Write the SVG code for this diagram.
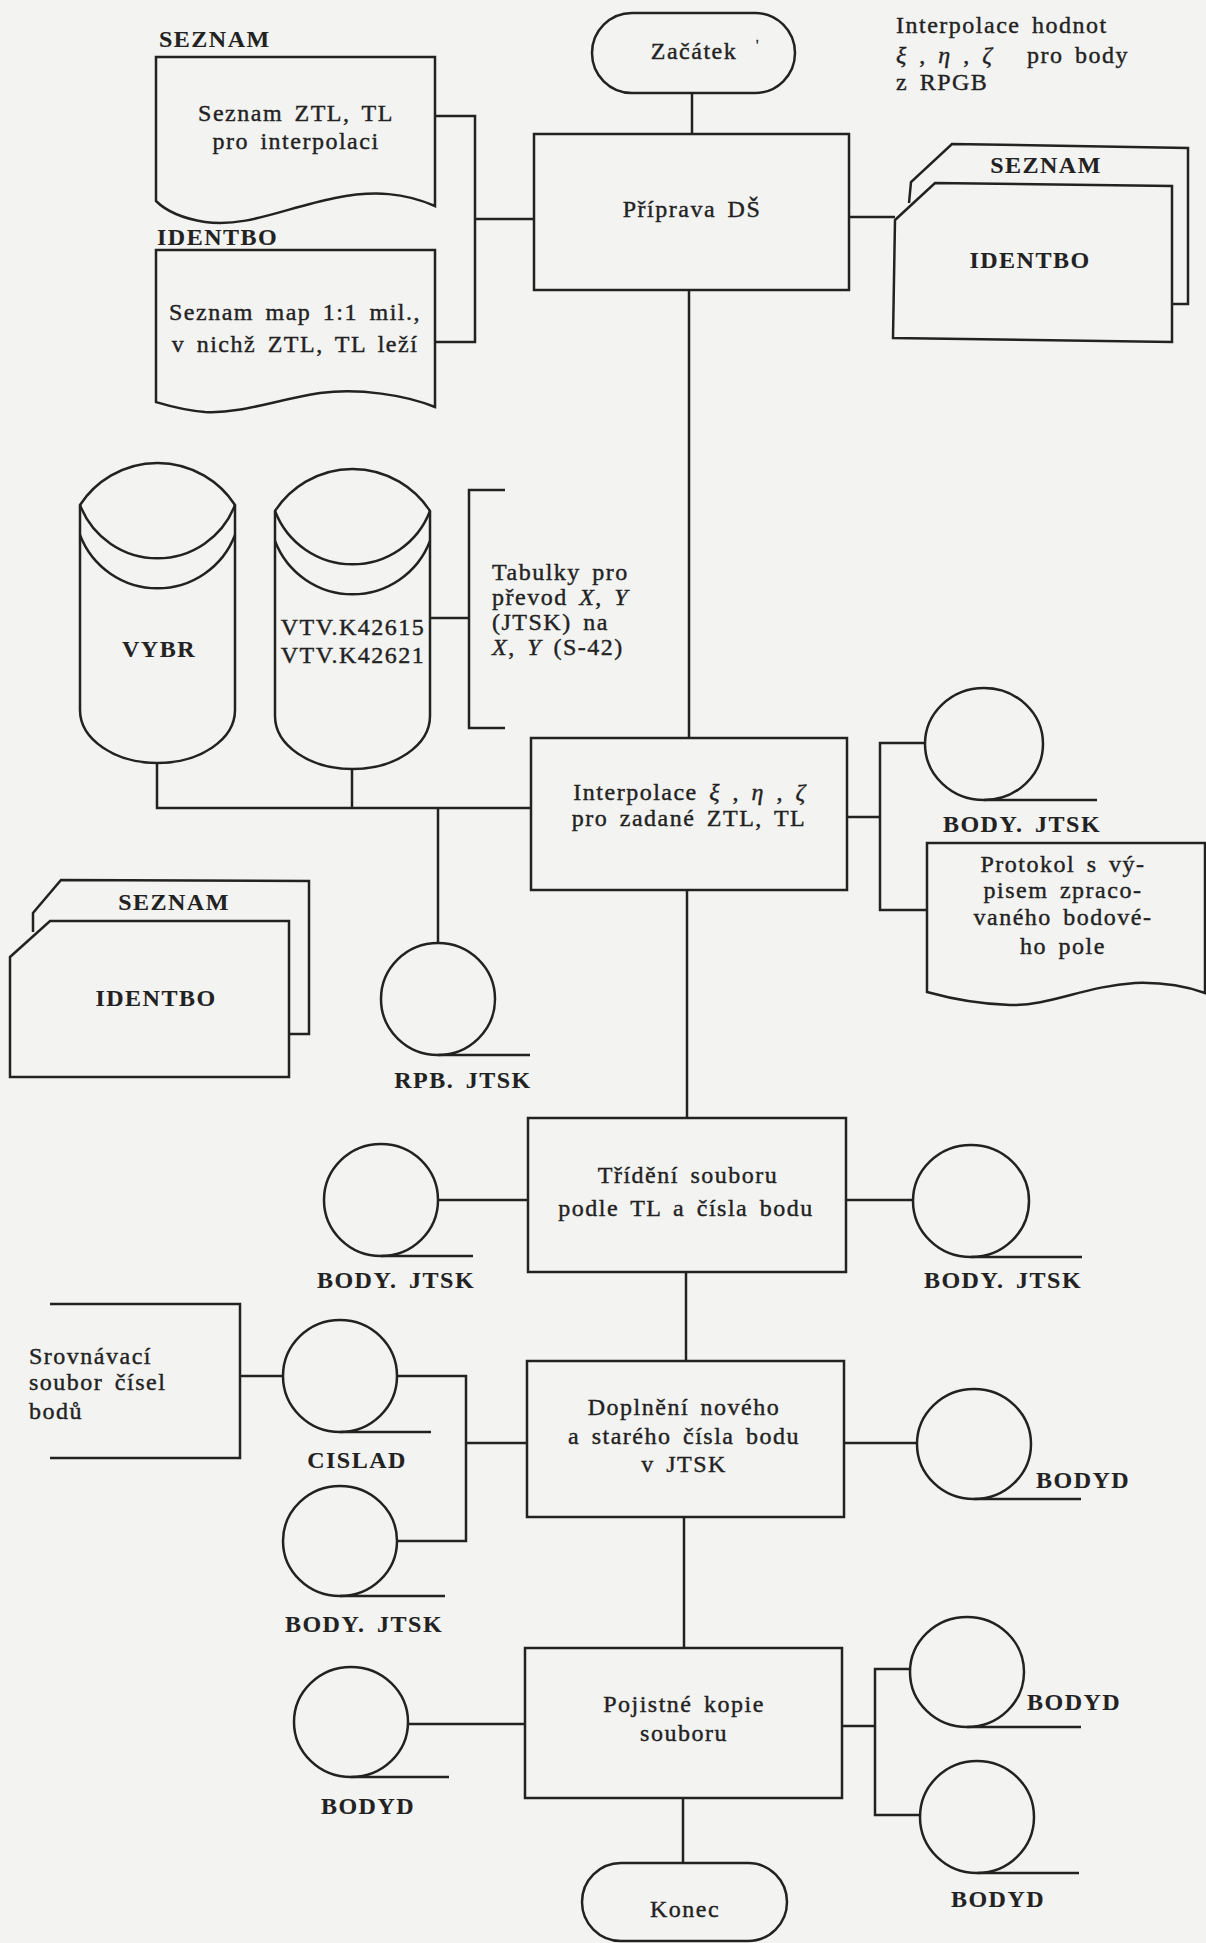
<svg xmlns="http://www.w3.org/2000/svg" width="1206" height="1943" viewBox="0 0 1206 1943">
<style>
  .s{fill:none;stroke:#222;stroke-width:2.5;stroke-linejoin:miter}
  .f{fill:#f3f3f1;stroke:#222;stroke-width:2.5}
  text{font-family:"Liberation Serif","DejaVu Serif",serif;font-size:24px;fill:#222;stroke:#222;stroke-width:0.4;letter-spacing:1.5px;word-spacing:4px}
  .c{text-anchor:middle}
  .b{font-weight:bold;stroke-width:0.1}
  .i{font-style:italic}
</style>
<defs>
  <g id="cyl">
    <path class="f" d="M0,0 A92.5,92.5 0 0 1 155,0 V205 A77.5,53 0 0 1 0,205 Z"/>
    <path class="s" d="M0,0 A83,83 0 0 0 155,0 M0,30 A83,83 0 0 0 155,30"/>
  </g>
</defs>
<rect width="1206" height="1943" fill="#f3f3f1"/>

<g id="connectors" class="s">
  <path d="M692,93 V133"/>
  <path d="M689,290 V738"/>
  <path d="M687,890 V1118"/>
  <path d="M686,1272 V1361"/>
  <path d="M684,1517 V1648"/>
  <path d="M683,1798 V1863"/>
  <path d="M435,116 H475 V342 H435 M475,219 H534"/>
  <path d="M849,217 H895"/>
  <path d="M157,763 V808 H531 M352,769 V808 M438,808 V943"/>
  <path d="M431,618 H469 M505,490 H469 V728 H505"/>
  <path d="M847,817 H880 M925,743 H880 V910 H927"/>
  <path d="M438,1200 H528"/>
  <path d="M846,1200 H913"/>
  <path d="M50,1304 H240 V1458 H50 M240,1376 H283"/>
  <path d="M397,1376 H466 V1541 H397 M466,1443 H527"/>
  <path d="M844,1443 H917"/>
  <path d="M408,1724 H525"/>
  <path d="M842,1726 H875 M910,1669 H875 V1815 H920"/>
</g>

<g id="start">
  <rect class="f" x="592" y="13" width="203" height="80" rx="40" ry="40"/>
  <text class="c" x="694" y="59">Začátek</text>
  <text x="756" y="50" style="font-size:14px">'</text>
</g>

<g id="note-top">
  <text x="896" y="33">Interpolace hodnot</text>
  <text x="896" y="63"><tspan class="i">ξ</tspan> , <tspan class="i">η</tspan> , <tspan class="i">ζ</tspan><tspan x="1027">pro body</tspan></text>
  <text x="896" y="90">z RPGB</text>
</g>

<g id="doc-seznam">
  <text class="b" x="159" y="47">SEZNAM</text>
  <path class="f" d="M156,57 H435 V206 C405,193 375,190 335,198 C285,208 245,228 205,222 C180,218 165,210 156,201 Z"/>
  <text class="c" x="296" y="121">Seznam ZTL, TL</text>
  <text class="c" x="296" y="149">pro interpolaci</text>
</g>

<g id="doc-identbo">
  <text class="b" x="157" y="245">IDENTBO</text>
  <path class="f" d="M156,250 H435 V407 C405,395 360,388 320,393 C275,400 240,414 205,412 C182,410 166,405 156,402 Z"/>
  <text class="c" x="295" y="320">Seznam map 1:1 mil.,</text>
  <text class="c" x="295" y="352">v nichž ZTL, TL leží</text>
</g>

<g id="priprava">
  <rect class="f" x="534" y="134" width="315" height="156"/>
  <text class="c" x="692" y="217">Příprava DŠ</text>
</g>

<g id="cards-right">
  <path class="f" d="M909,203 L911,182 L952,144 L1188,148 L1188,304 L1172,304"/>
  <path class="f" d="M895,220 L935,183 L1172,186 L1172,342 L893,338 Z"/>
  <text class="c b" x="1046" y="173">SEZNAM</text>
  <text class="c b" x="1030" y="268">IDENTBO</text>
</g>

<g id="vybr">
  <use href="#cyl" transform="translate(80,505)"/>
  <text class="c b" x="159" y="657">VYBR</text>
</g>

<g id="vtv">
  <use href="#cyl" transform="translate(275,511)"/>
  <text class="c" x="353" y="635">VTV.K42615</text>
  <text class="c" x="353" y="663">VTV.K42621</text>
</g>

<g id="note-tabulky">
  <text x="492" y="580">Tabulky pro</text>
  <text x="492" y="605">převod <tspan class="i">X</tspan>, <tspan class="i">Y</tspan></text>
  <text x="492" y="630">(JTSK) na</text>
  <text x="492" y="655"><tspan class="i">X</tspan>, <tspan class="i">Y</tspan> (S-42)</text>
</g>

<g id="interpolace">
  <rect class="f" x="531" y="738" width="316" height="152"/>
  <text class="c" x="690" y="800">Interpolace <tspan class="i">ξ</tspan> , <tspan class="i">η</tspan> , <tspan class="i">ζ</tspan></text>
  <text class="c" x="689" y="826">pro zadané ZTL, TL</text>
</g>

<g id="tape-body-jtsk-1">
  <ellipse class="f" cx="984" cy="744" rx="59" ry="56"/>
  <path class="s" d="M984,800 H1097"/>
  <text class="c b" x="1022" y="832">BODY. JTSK</text>
</g>

<g id="protokol">
  <path class="f" d="M927,843 H1205 V993 C1185,986 1165,982 1135,983 C1085,986 1050,1006 1010,1005 C975,1004 945,997 927,992 Z"/>
  <text class="c" x="1063" y="872">Protokol s vý-</text>
  <text class="c" x="1063" y="898">pisem zpraco-</text>
  <text class="c" x="1063" y="925">vaného bodové-</text>
  <text class="c" x="1063" y="954">ho pole</text>
</g>

<g id="cards-left">
  <path class="f" d="M33,932 L33,913 L61,880 L309,881 L309,1034 L289,1034"/>
  <path class="f" d="M10,957 L50,921 L289,921 L289,1077 L10,1077 Z"/>
  <text class="c b" x="174" y="910">SEZNAM</text>
  <text class="c b" x="156" y="1006">IDENTBO</text>
</g>

<g id="tape-rpb-jtsk">
  <ellipse class="f" cx="438" cy="999" rx="57" ry="56"/>
  <path class="s" d="M438,1055 H530"/>
  <text class="c b" x="463" y="1088">RPB. JTSK</text>
</g>

<g id="tape-body-jtsk-2">
  <ellipse class="f" cx="381" cy="1200" rx="57" ry="56"/>
  <path class="s" d="M381,1256 H473"/>
  <text class="c b" x="396" y="1288">BODY. JTSK</text>
</g>

<g id="trideni">
  <rect class="f" x="528" y="1118" width="318" height="154"/>
  <text class="c" x="688" y="1183">Třídění souboru</text>
  <text class="c" x="686" y="1216">podle TL a čísla bodu</text>
</g>

<g id="tape-body-jtsk-3">
  <ellipse class="f" cx="971" cy="1201" rx="58" ry="56"/>
  <path class="s" d="M971,1257 H1082"/>
  <text class="c b" x="1003" y="1288">BODY. JTSK</text>
</g>

<g id="note-srovnavaci">
  <text x="29" y="1364">Srovnávací</text>
  <text x="29" y="1390">soubor čísel</text>
  <text x="29" y="1419">bodů</text>
</g>

<g id="tape-cislad">
  <ellipse class="f" cx="340" cy="1376" rx="57" ry="56"/>
  <path class="s" d="M340,1432 H431"/>
  <text class="c b" x="357" y="1468">CISLAD</text>
</g>

<g id="tape-body-jtsk-4">
  <ellipse class="f" cx="340" cy="1541" rx="57" ry="55"/>
  <path class="s" d="M340,1596 H445"/>
  <text class="c b" x="364" y="1632">BODY. JTSK</text>
</g>

<g id="doplneni">
  <rect class="f" x="527" y="1361" width="317" height="156"/>
  <text class="c" x="684" y="1415">Doplnění nového</text>
  <text class="c" x="684" y="1444">a starého čísla bodu</text>
  <text class="c" x="684" y="1472">v JTSK</text>
</g>

<g id="tape-bodyd-1">
  <ellipse class="f" cx="974" cy="1444" rx="57" ry="55"/>
  <path class="s" d="M974,1499 H1081"/>
  <text class="b" x="1036" y="1488">BODYD</text>
</g>

<g id="tape-bodyd-2">
  <ellipse class="f" cx="351" cy="1722" rx="57" ry="55"/>
  <path class="s" d="M351,1777 H449"/>
  <text class="c b" x="368" y="1814">BODYD</text>
</g>

<g id="pojistne">
  <rect class="f" x="525" y="1648" width="317" height="150"/>
  <text class="c" x="684" y="1712">Pojistné kopie</text>
  <text class="c" x="684" y="1741">souboru</text>
</g>

<g id="tape-bodyd-3">
  <ellipse class="f" cx="967" cy="1672" rx="57" ry="55"/>
  <path class="s" d="M967,1727 H1081"/>
  <text class="b" x="1027" y="1710">BODYD</text>
</g>

<g id="tape-bodyd-4">
  <ellipse class="f" cx="977" cy="1817" rx="57" ry="56"/>
  <path class="s" d="M977,1873 H1079"/>
  <text class="c b" x="998" y="1907">BODYD</text>
</g>

<g id="end">
  <rect class="f" x="582" y="1863" width="205" height="78" rx="39" ry="39"/>
  <text class="c" x="685" y="1917">Konec</text>
</g>
</svg>
